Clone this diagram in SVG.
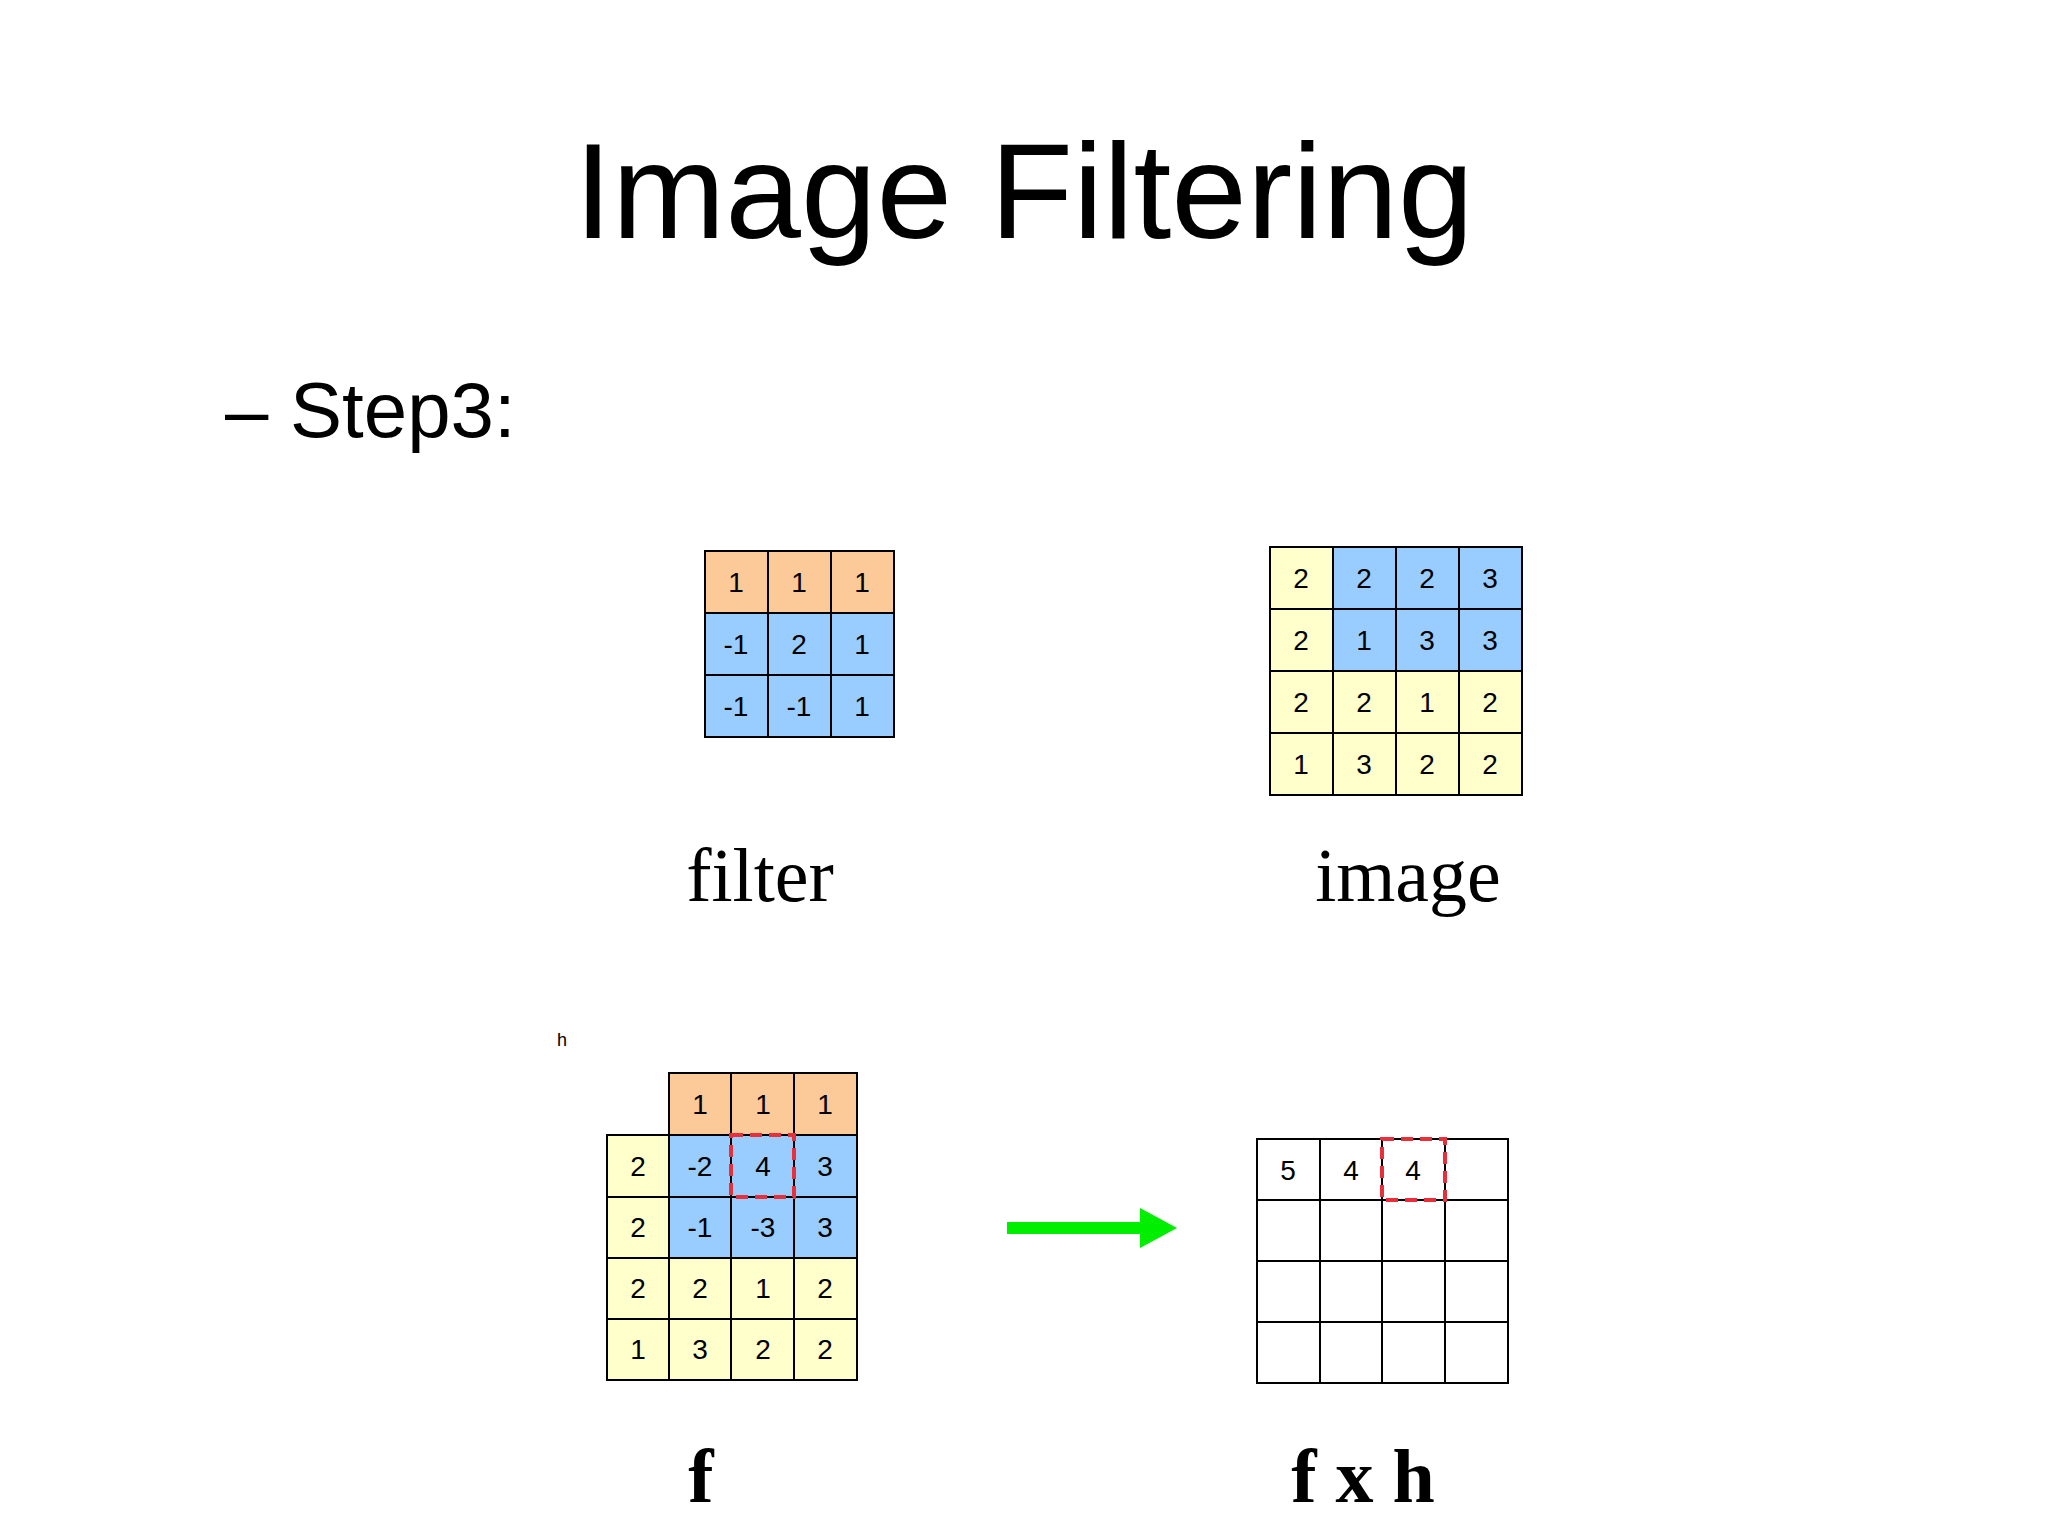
<svg xmlns="http://www.w3.org/2000/svg" width="2048" height="1536" viewBox="0 0 2048 1536">
<style>
.o{fill:#FBCA98;stroke:#000;stroke-width:2}
.b{fill:#99CCFF;stroke:#000;stroke-width:2}
.y{fill:#FFFFCC;stroke:#000;stroke-width:2}
.w{fill:#fff;stroke:#000;stroke-width:2}
.n{font-family:"Liberation Sans",Arial,sans-serif;font-size:28px;text-anchor:middle;fill:#000}
.lab{font-family:"Liberation Serif","Times New Roman",serif;font-size:76px;text-anchor:middle;fill:#000}
.red{fill:none;stroke:#E8303A;stroke-width:4;stroke-dasharray:12,7}
</style>
<rect width="2048" height="1536" fill="#fff"/>
<text x="1024" y="238" font-family="Liberation Sans,Arial,sans-serif" font-size="136" text-anchor="middle">Image Filtering</text>
<text x="225" y="437" font-family="Liberation Sans,Arial,sans-serif" font-size="78">– Step3:</text>

<g id="filter">
<rect class="o" x="705" y="551" width="63" height="62"/><rect class="o" x="768" y="551" width="63" height="62"/><rect class="o" x="831" y="551" width="63" height="62"/>
<rect class="b" x="705" y="613" width="63" height="62"/><rect class="b" x="768" y="613" width="63" height="62"/><rect class="b" x="831" y="613" width="63" height="62"/>
<rect class="b" x="705" y="675" width="63" height="62"/><rect class="b" x="768" y="675" width="63" height="62"/><rect class="b" x="831" y="675" width="63" height="62"/>
<text class="n" x="736" y="592">1</text><text class="n" x="799" y="592">1</text><text class="n" x="862" y="592">1</text>
<text class="n" x="736" y="654">-1</text><text class="n" x="799" y="654">2</text><text class="n" x="862" y="654">1</text>
<text class="n" x="736" y="716">-1</text><text class="n" x="799" y="716">-1</text><text class="n" x="862" y="716">1</text>
<text class="lab" x="760" y="901">filter</text>
</g>

<g id="image">
<rect class="y" x="1270" y="547" width="63" height="62"/><rect class="b" x="1333" y="547" width="63" height="62"/><rect class="b" x="1396" y="547" width="63" height="62"/><rect class="b" x="1459" y="547" width="63" height="62"/>
<rect class="y" x="1270" y="609" width="63" height="62"/><rect class="b" x="1333" y="609" width="63" height="62"/><rect class="b" x="1396" y="609" width="63" height="62"/><rect class="b" x="1459" y="609" width="63" height="62"/>
<rect class="y" x="1270" y="671" width="63" height="62"/><rect class="y" x="1333" y="671" width="63" height="62"/><rect class="y" x="1396" y="671" width="63" height="62"/><rect class="y" x="1459" y="671" width="63" height="62"/>
<rect class="y" x="1270" y="733" width="63" height="62"/><rect class="y" x="1333" y="733" width="63" height="62"/><rect class="y" x="1396" y="733" width="63" height="62"/><rect class="y" x="1459" y="733" width="63" height="62"/>
<text class="n" x="1301" y="588">2</text><text class="n" x="1364" y="588">2</text><text class="n" x="1427" y="588">2</text><text class="n" x="1490" y="588">3</text>
<text class="n" x="1301" y="650">2</text><text class="n" x="1364" y="650">1</text><text class="n" x="1427" y="650">3</text><text class="n" x="1490" y="650">3</text>
<text class="n" x="1301" y="712">2</text><text class="n" x="1364" y="712">2</text><text class="n" x="1427" y="712">1</text><text class="n" x="1490" y="712">2</text>
<text class="n" x="1301" y="774">1</text><text class="n" x="1364" y="774">3</text><text class="n" x="1427" y="774">2</text><text class="n" x="1490" y="774">2</text>
<text class="lab" x="1408" y="901">image</text>
</g>

<text x="562" y="1046" font-family="Liberation Sans,Arial,sans-serif" font-size="18" text-anchor="middle">h</text>

<g id="f">
<rect class="o" x="669" y="1073" width="62" height="62"/><rect class="o" x="731" y="1073" width="63" height="62"/><rect class="o" x="794" y="1073" width="63" height="62"/>
<rect class="y" x="607" y="1135" width="62" height="62"/><rect class="b" x="669" y="1135" width="62" height="62"/><rect class="b" x="731" y="1135" width="63" height="62"/><rect class="b" x="794" y="1135" width="63" height="62"/>
<rect class="y" x="607" y="1197" width="62" height="61"/><rect class="b" x="669" y="1197" width="62" height="61"/><rect class="b" x="731" y="1197" width="63" height="61"/><rect class="b" x="794" y="1197" width="63" height="61"/>
<rect class="y" x="607" y="1258" width="62" height="61"/><rect class="y" x="669" y="1258" width="62" height="61"/><rect class="y" x="731" y="1258" width="63" height="61"/><rect class="y" x="794" y="1258" width="63" height="61"/>
<rect class="y" x="607" y="1319" width="62" height="61"/><rect class="y" x="669" y="1319" width="62" height="61"/><rect class="y" x="731" y="1319" width="63" height="61"/><rect class="y" x="794" y="1319" width="63" height="61"/>
<text class="n" x="700" y="1114">1</text><text class="n" x="763" y="1114">1</text><text class="n" x="825" y="1114">1</text>
<text class="n" x="638" y="1176">2</text><text class="n" x="700" y="1176">-2</text><text class="n" x="763" y="1176">4</text><text class="n" x="825" y="1176">3</text>
<text class="n" x="638" y="1237">2</text><text class="n" x="700" y="1237">-1</text><text class="n" x="763" y="1237">-3</text><text class="n" x="825" y="1237">3</text>
<text class="n" x="638" y="1298">2</text><text class="n" x="700" y="1298">2</text><text class="n" x="763" y="1298">1</text><text class="n" x="825" y="1298">2</text>
<text class="n" x="638" y="1359">1</text><text class="n" x="700" y="1359">3</text><text class="n" x="763" y="1359">2</text><text class="n" x="825" y="1359">2</text>
<rect class="red" x="731" y="1135" width="63" height="62"/>
<text class="lab" x="701" y="1502" font-weight="bold">f</text>
</g>

<g id="connectors">
<polygon points="1007,1222 1140,1222 1140,1208 1177,1228 1140,1248 1140,1234 1007,1234" fill="#00EE00"/>
</g>

<g id="result">
<g class="w">
<rect x="1257" y="1139" width="63" height="61"/><rect x="1320" y="1139" width="62" height="61"/><rect x="1382" y="1139" width="63" height="61"/><rect x="1445" y="1139" width="63" height="61"/>
<rect x="1257" y="1200" width="63" height="61"/><rect x="1320" y="1200" width="62" height="61"/><rect x="1382" y="1200" width="63" height="61"/><rect x="1445" y="1200" width="63" height="61"/>
<rect x="1257" y="1261" width="63" height="61"/><rect x="1320" y="1261" width="62" height="61"/><rect x="1382" y="1261" width="63" height="61"/><rect x="1445" y="1261" width="63" height="61"/>
<rect x="1257" y="1322" width="63" height="61"/><rect x="1320" y="1322" width="62" height="61"/><rect x="1382" y="1322" width="63" height="61"/><rect x="1445" y="1322" width="63" height="61"/>
</g>
<text class="n" x="1288" y="1180">5</text><text class="n" x="1351" y="1180">4</text><text class="n" x="1413" y="1180">4</text>
<rect class="red" x="1382" y="1139" width="63" height="61"/>
<text class="lab" x="1363" y="1502" font-weight="bold">f x h</text>
</g>
</svg>
